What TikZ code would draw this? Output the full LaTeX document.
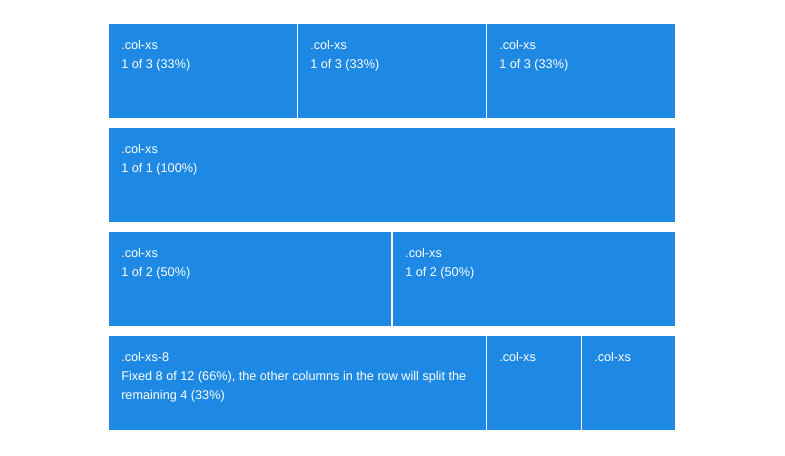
\documentclass[tikz,border=0pt]{standalone}
\usepackage{fontspec}
\setmainfont{Liberation Sans}
\definecolor{colblue}{HTML}{1E88E5}
\tikzset{
  colbox/.style={fill=colblue, draw=none, inner sep=0pt, anchor=north west, minimum height=70.5pt},
  coltext/.style={anchor=north west, inner sep=0pt, text=white, align=left, font=\fontsize{9.5pt}{14.5pt}\selectfont},
}
\begin{document}
\begin{tikzpicture}[x=0.75pt,y=0.75pt,yscale=-1,xscale=1]
    \useasboundingbox (0,0) rectangle (785,455);

    % Row 1: three columns
    \node [colbox, minimum width=141pt] (ra) at (109,24) {};
    \node [colbox, minimum width=141pt] (rb) at (298,24) {};
    \node [colbox, minimum width=141pt] (rc) at (487,24) {};
    % Row 2: one column
    \node [colbox, minimum width=424.5pt] (sa) at (109,128) {};
    % Row 3: two columns
    \node [colbox, minimum width=211.5pt] (ta) at (109,232) {};
    \node [colbox, minimum width=211.5pt] (tb) at (393,232) {};
    % Row 4: fixed 8 + two
    \node [colbox, minimum width=282.75pt] (ua) at (109,336) {};
    \node [colbox, minimum width=70.5pt] (ub) at (487,336) {};
    \node [colbox, minimum width=69.75pt] (uc) at (582,336) {};

    % Text Node
    \node [coltext] (ra-t) at ([shift={(12,11.5)}]ra.north west) {\strut.col-xs\\1 of 3 (33\%)};
    % Text Node
    \node [coltext] (rb-t) at ([shift={(12,11.5)}]rb.north west) {\strut.col-xs\\1 of 3 (33\%)};
    % Text Node
    \node [coltext] (rc-t) at ([shift={(12,11.5)}]rc.north west) {\strut.col-xs\\1 of 3 (33\%)};
    % Text Node
    \node [coltext] (sa-t) at ([shift={(12,11.5)}]sa.north west) {\strut.col-xs\\1 of 1 (100\%)};
    % Text Node
    \node [coltext] (ta-t) at ([shift={(12,11.5)}]ta.north west) {\strut.col-xs\\1 of 2 (50\%)};
    % Text Node
    \node [coltext] (tb-t) at ([shift={(12,11.5)}]tb.north west) {\strut.col-xs\\1 of 2 (50\%)};
    % Text Node
    \node [coltext] (ua-t) at ([shift={(12,11.5)}]ua.north west) {\strut.col-xs-8\\Fixed 8 of 12 (66\%), the other columns in the row will split the\\remaining 4 (33\%)};
    % Text Node
    \node [coltext] (ub-t) at ([shift={(12,11.5)}]ub.north west) {\strut.col-xs};
    % Text Node
    \node [coltext] (uc-t) at ([shift={(12,11.5)}]uc.north west) {\strut.col-xs};

\end{tikzpicture}
\end{document}
